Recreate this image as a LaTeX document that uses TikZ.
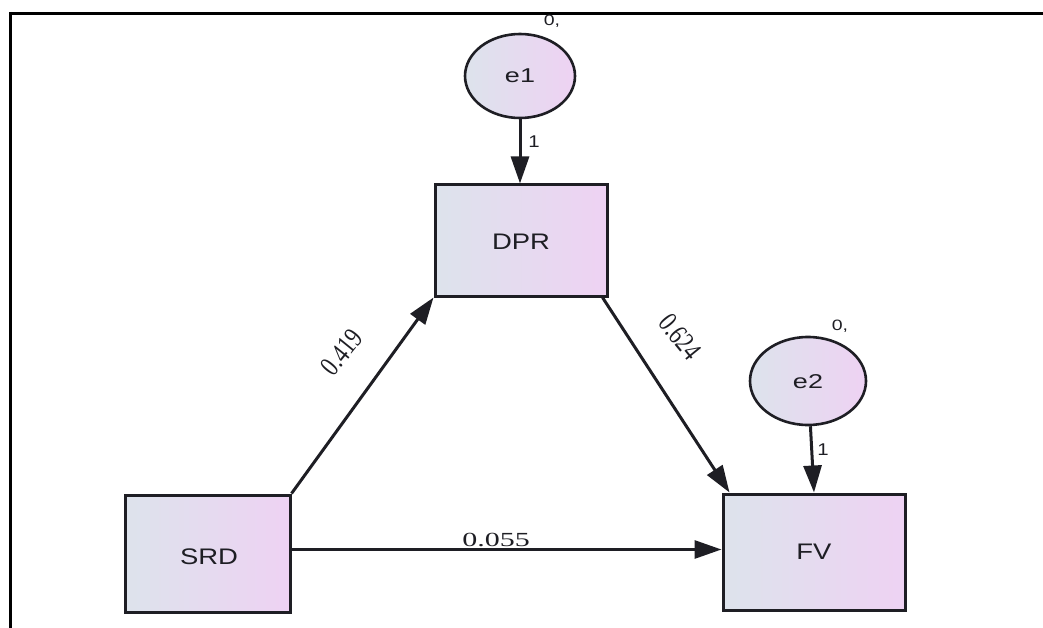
\documentclass[tikz,border=0pt]{standalone}
\usepackage{fontspec}
\setmainfont{Liberation Sans}
\newfontfamily\numfont{Liberation Serif}
\usetikzlibrary{arrows.meta,shapes.geometric}
\definecolor{shadeA}{HTML}{DDE3EC}
\definecolor{shadeB}{HTML}{EED2F3}
\definecolor{ink}{HTML}{1E1E24}
\tikzset{
  obsbox/.style={draw=ink, line width=3pt, rectangle, left color=shadeA, right color=shadeB,
    inner sep=0pt, text=ink},
  errnode/.style={draw=ink, line width=2.6pt, ellipse, left color=shadeA, right color=shadeB,
    inner sep=0pt, text=ink},
  boxtext/.style={font=\fontsize{22.5}{24}\selectfont, text=ink, inner sep=0pt, xscale=1.22},
  errtext/.style={font=\fontsize{20}{22}\selectfont, text=ink, inner sep=0pt, xscale=1.35},
  path/.style={draw=ink, line width=3pt, -{Triangle[length=27pt,width=18pt]}},
  coef/.style={font=\numfont\fontsize{20}{22}\selectfont, text=ink, inner sep=0pt},
  small/.style={font=\fontsize{17}{19}\selectfont, text=ink, inner sep=0pt, xscale=1.2},
  tiny/.style={font=\fontsize{15}{17}\selectfont, text=ink, inner sep=0pt, xscale=1.3},
}
\begin{document}
\begin{tikzpicture}[x=1pt, y=-1pt]
\useasboundingbox (0,0) rectangle (1043,628);
% open frame: top and left edges
\draw[line width=3pt, black] (10,13.5) -- (1043,13.5);
\draw[line width=3pt, black] (10.5,12) -- (10.5,628);

% variables
\node[obsbox, minimum width=172pt, minimum height=111pt] (DPR) at (521,240.5) {};
\node[obsbox, minimum width=165pt, minimum height=117pt] (SRD) at (207.5,553.5) {};
\node[obsbox, minimum width=182pt, minimum height=116pt] (FV) at (814,552) {};
\node[errnode, minimum width=110pt, minimum height=84pt] (e1) at (520,76) {};
\node[errnode, minimum width=116pt, minimum height=88pt] (e2) at (808,381) {};

% variable names
\node[boxtext] (tDPR) at (521,242) {DPR};
\node[boxtext] (tSRD) at (209,557) {SRD};
\node[boxtext] (tFV) at (814,552) {FV};
\node[errtext] (te1) at (520,76) {e1};
\node[errtext] (te2) at (808,382) {e2};

% paths
\draw[path] (e1.south) -- (DPR.north -| e1.south);
\draw[path] (e2) -- (FV.north);
\draw[path] (SRD.north east) -- (DPR.south west);
\draw[path] ([xshift=-6pt]DPR.south east) -- ([xshift=8pt]FV.north west);
\draw[path] ([yshift=4pt]SRD.east) -- ([yshift=4pt]SRD.east -| FV.west);

% labels
\node[small] (l1) at (534,142) {1};
\node[small] (l2) at (823,450) {1};
\node[tiny] (v1) at (552,21) {0,};
\node[tiny] (v2) at (840,326) {0,};
\node[coef, font=\numfont\fontsize{22}{24}\selectfont, rotate=51, yscale=1.3] (c1) at (342,352) {0.419};
\node[coef, font=\numfont\fontsize{22}{24}\selectfont, rotate=-51, yscale=1.3] (c2) at (680,337) {0.624};
\node[coef, xscale=1.5] (c3) at (496,540) {0.055};
\end{tikzpicture}
\end{document}
